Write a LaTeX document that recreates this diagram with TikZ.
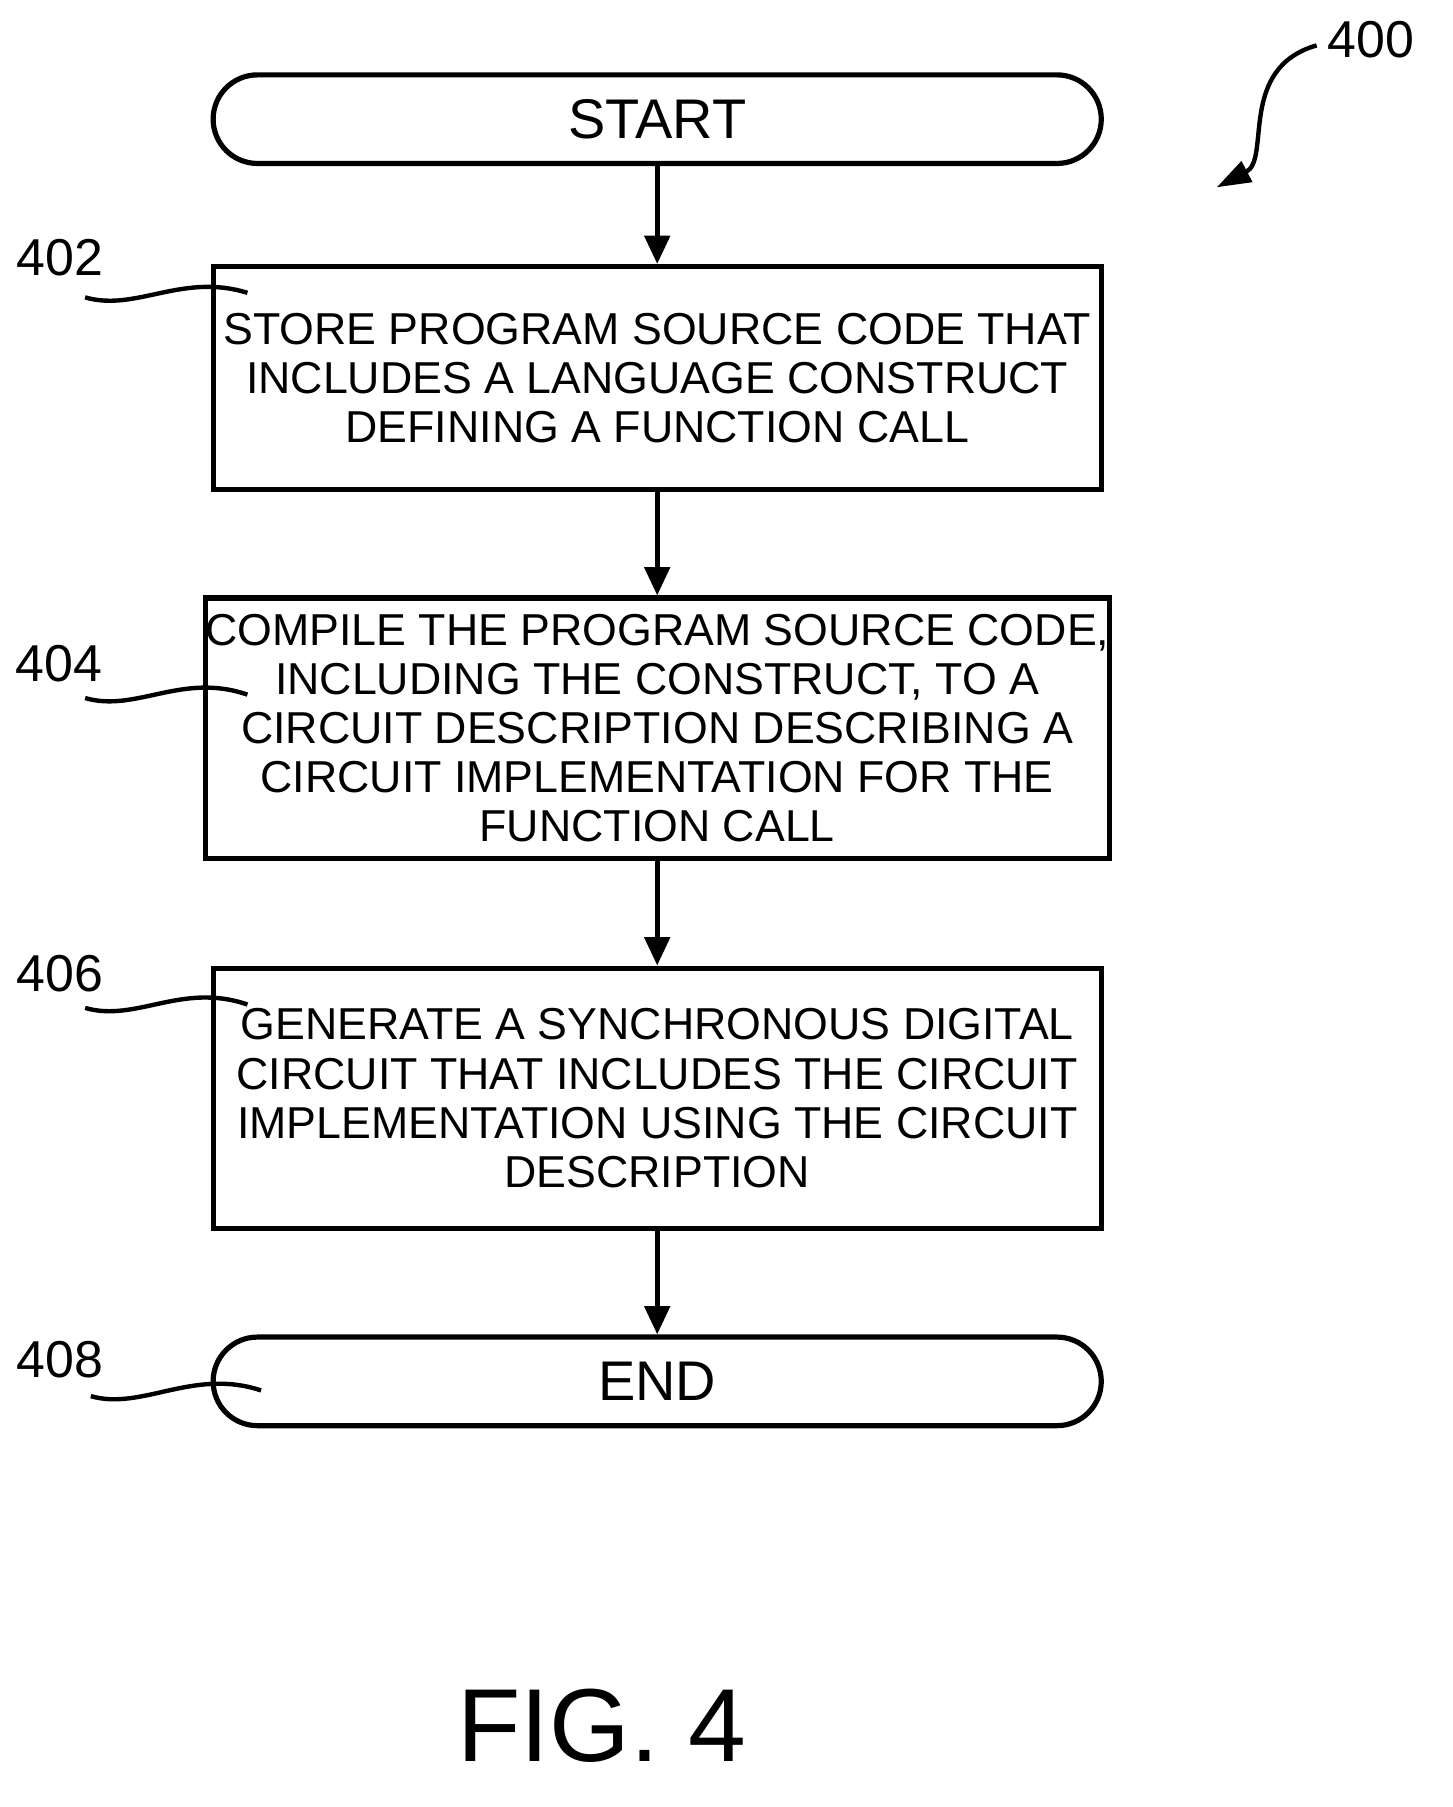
\documentclass[tikz,border=0pt]{standalone}
\usepackage{fontspec}
\setmainfont{Liberation Sans}
\usetikzlibrary{arrows.meta}
\begin{document}
\begin{tikzpicture}[x=0.01cm,y=-0.01cm,
  box/.style={draw,line width=1.3pt,minimum width=7.82cm,align=center,font=\fontsize{11.2pt}{12.3pt}\selectfont,inner sep=0pt},
  term/.style={box,rounded corners=0.39cm,minimum height=0.78cm,font=\fontsize{14pt}{16pt}\selectfont},
  arr/.style={line width=1.3pt,-{Triangle[length=0.25cm,width=0.22cm]}},
  lab/.style={font=\fontsize{13pt}{15pt}\selectfont},
  sq/.style={line width=1.1pt}]
\useasboundingbox (0,0) rectangle (1280,1592);
\node[term] (start) at (579,105) {START};
\node[box,minimum height=1.96cm] (b402) at (579,333) {STORE PROGRAM SOURCE CODE THAT\\INCLUDES A LANGUAGE CONSTRUCT\\DEFINING A FUNCTION CALL};
\node[box,minimum height=2.29cm] (b404) at (579,641.5) {COMPILE THE PROGRAM SOURCE CODE,\\INCLUDING THE CONSTRUCT, TO A\\CIRCUIT DESCRIPTION DESCRIBING A\\CIRCUIT IMPLEMENTATION FOR THE\\FUNCTION CALL};
\node[box,minimum height=2.29cm] (b406) at (579,967.5) {GENERATE A SYNCHRONOUS DIGITAL\\CIRCUIT THAT INCLUDES THE CIRCUIT\\IMPLEMENTATION USING THE CIRCUIT\\DESCRIPTION};
\node[term] (end) at (579,1217) {END};
\draw[arr] (start) -- (b402);
\draw[arr] (b402) -- (b404);
\draw[arr] (b404) -- (b406);
\draw[arr] (b406) -- (end);
\node[lab] (l402) at (53,227) {402};
\node[lab] (l404) at (52,585) {404};
\node[lab] (l406) at (53,858) {406};
\node[lab] (l408) at (53,1198) {408};
\node[lab] (l400) at (1208,35) {400};
\draw[sq] (75,262) .. controls (120,275) and (160,240) .. (218,258);
\draw[sq] (75,615) .. controls (120,628) and (160,592) .. (218,612);
\draw[sq] (75,888) .. controls (120,901) and (160,865) .. (218,885);
\draw[sq] (80,1230) .. controls (125,1243) and (170,1205) .. (230,1225);
\coordinate (a1) at (1160,40);
\coordinate (a2) at (1072,165);
\draw[sq,-{Triangle[length=0.3cm,width=0.2cm]}] (a1) .. controls (1090,60) and (1120,140) .. (a2);
\node[font=\fontsize{26pt}{30pt}\selectfont] (fig) at (530,1520) {FIG. 4};
\end{tikzpicture}
\end{document}
